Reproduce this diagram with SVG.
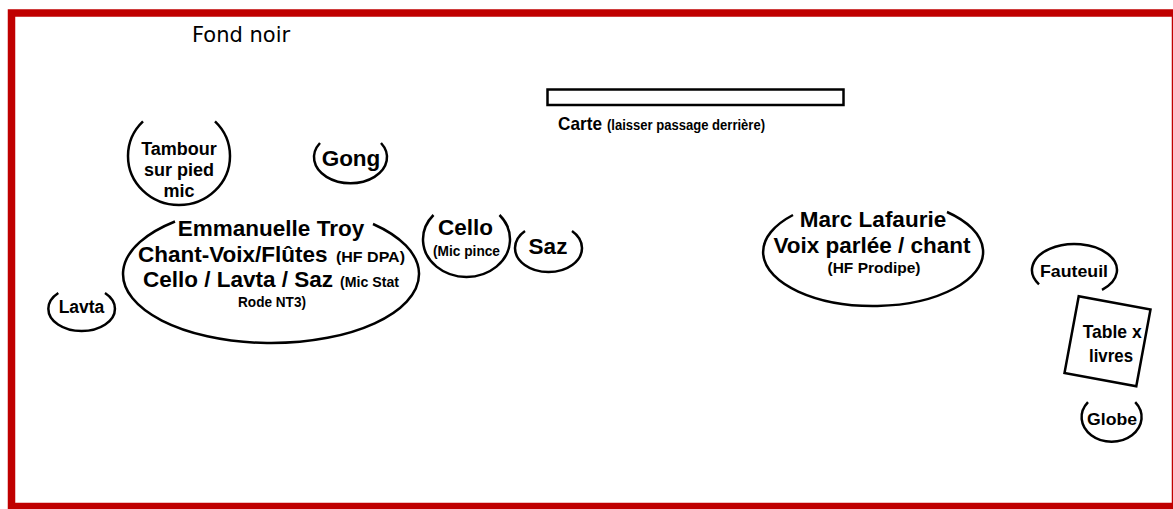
<svg xmlns="http://www.w3.org/2000/svg" width="1173" height="509" viewBox="0 0 1173 509">
<style>
.arc{fill:none;stroke:#000;stroke-width:2.5}
.b{font-family:"Liberation Sans",Arial,sans-serif;font-weight:bold;fill:#000}
.big{font-size:22.5px}
.sm{font-size:15px}
.mid{text-anchor:middle}
</style>
<rect x="0" y="0" width="1173" height="509" fill="#fff"/>
<rect id="border" x="11.5" y="13" width="1164" height="493.5" fill="none" stroke="#c00000" stroke-width="7.5"/>
<text id="fond" x="192" y="41.7" font-family="'DejaVu Sans',sans-serif" font-size="21" fill="#000">Fond noir</text>
<g id="carte">
<rect x="547.5" y="89.5" width="296" height="15.5" fill="#fff" stroke="#000" stroke-width="2.5"/>
<text class="b" x="558" y="130" font-size="19" textLength="44" lengthAdjust="spacingAndGlyphs">Carte</text>
<text class="b" x="607" y="130" font-size="14.5" textLength="158" lengthAdjust="spacingAndGlyphs">(laisser passage derrière)</text>
</g>
<g id="tambour">
<path class="arc" d="M143,121.3 A51,49 0 1 0 215,121.3"/>
<text class="b mid" font-size="18"><tspan x="179" y="155">Tambour</tspan><tspan x="179" y="176">sur pied</tspan><tspan x="179" y="197">mic</tspan></text>
</g>
<g id="gong">
<path class="arc" d="M320,143 A36.5,26 0 1 0 381,143"/>
<text class="b big mid" x="351" y="166">Gong</text>
</g>
<g id="emmanuelle">
<path class="arc" d="M175,221.5 A148,69 0 1 0 373,224"/>
<text class="b big mid" x="271" y="235.5">Emmanuelle Troy</text>
<text class="b big" x="138" y="261.7">Chant-Voix/Flûtes</text>
<text class="b sm" x="336" y="261.7" textLength="69" lengthAdjust="spacingAndGlyphs">(HF DPA)</text>
<text class="b big" x="143" y="286.7">Cello / Lavta / Saz</text>
<text class="b sm" x="340" y="286.7" textLength="59" lengthAdjust="spacingAndGlyphs">(Mic Stat</text>
<text class="b sm" x="238" y="307" textLength="68" lengthAdjust="spacingAndGlyphs">Rode NT3)</text>
</g>
<g id="cello">
<path class="arc" d="M433.5,215 A43.5,37.5 0 1 0 499.5,215"/>
<text class="b big mid" x="465.5" y="235">Cello</text>
<text class="b sm" x="433" y="255.7" textLength="67" lengthAdjust="spacingAndGlyphs">(Mic pince</text>
</g>
<g id="saz">
<path class="arc" d="M525,231 A33.5,24 0 1 0 572,231"/>
<text class="b big mid" x="548" y="254">Saz</text>
</g>
<g id="lavta">
<path class="arc" d="M58.3,293 A33.3,22.2 0 1 0 105,293"/>
<text class="b mid" x="81.5" y="313.3" font-size="17.5">Lavta</text>
</g>
<g id="marc">
<path class="arc" d="M793,215 A110,54 0 1 0 947,212"/>
<text class="b big mid" x="873" y="226.7">Marc Lafaurie</text>
<text class="b big mid" x="872" y="253.3">Voix parlée / chant</text>
<text class="b mid" x="874" y="273.3" font-size="15.5">(HF Prodipe)</text>
</g>
<g id="fauteuil">
<path class="arc" d="M1039,284.3 A42.5,26 0 1 1 1102,289.8"/>
<text class="b" x="1040" y="276.7" font-size="17" textLength="68" lengthAdjust="spacingAndGlyphs">Fauteuil</text>
</g>
<g id="table">
<rect x="-36.5" y="-39" width="73" height="78" fill="none" stroke="#000" stroke-width="2.5" transform="translate(1107.5,341.3) rotate(10.5)"/>
<text class="b" x="1082.7" y="338.3" font-size="19" textLength="59" lengthAdjust="spacingAndGlyphs">Table x</text>
<text class="b" x="1089" y="361.7" font-size="19" textLength="44" lengthAdjust="spacingAndGlyphs">livres</text>
</g>
<g id="globe">
<path class="arc" d="M1088,402.2 A30,24.4 0 1 0 1135.2,402.2"/>
<text class="b" x="1087" y="425" font-size="17" textLength="50" lengthAdjust="spacingAndGlyphs">Globe</text>
</g>
<g id="connectors"/>
</svg>
